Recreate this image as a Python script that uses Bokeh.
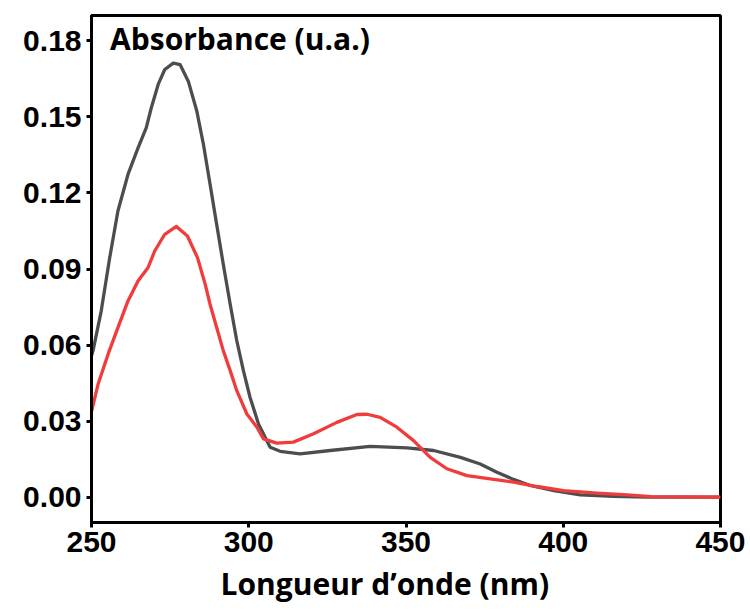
from bokeh.plotting import figure
from bokeh.models import Label, FixedTicker, Title
from bokeh.embed import file_html
from bokeh.resources import INLINE

# Wavelength (nm) and absorbance (u.a.)
wl_gray = [250, 250.5, 253.1, 255.8, 258.4, 261.6, 264.8, 267.4, 269.0, 271.2, 273.3,
           276.0, 278.2, 280.8, 283.5, 285.6, 287.7, 289.8, 291.9, 294.1, 296.2, 298.3,
           300.4, 303.1, 306.8, 310, 316.3, 325.9, 338.6, 350.3, 358.8, 367.3, 373.6,
           378.9, 384.2, 389.5, 397.0, 405.4, 416.0, 426.7, 450]
abs_gray = [0.0558, 0.0578, 0.0735, 0.0945, 0.1129, 0.1273, 0.1378, 0.1457, 0.1535, 0.1628, 0.1687,
            0.1712, 0.1706, 0.164, 0.1522, 0.1391, 0.1234, 0.1076, 0.0919, 0.0761, 0.0617, 0.0499,
            0.0394, 0.0289, 0.0197, 0.0181, 0.0171, 0.0184, 0.0200, 0.0194, 0.0184, 0.0157, 0.0131,
            0.0098, 0.0070, 0.0046, 0.0026, 0.0009, 0.0003, 0.0, 0.0]

wl_red = [250, 252.1, 255.3, 258.4, 261.6, 264.8, 268.0, 270.1, 273.3, 277.0, 280.5,
          283.7, 286.0, 287.7, 289.8, 291.9, 294.1, 296.2, 299.4, 302.6, 304.7, 308.9,
          314.2, 320.6, 328, 334.4, 337.6, 341.8, 347.1, 352.4, 357.7, 363.0, 369.4,
          376.8, 384.2, 391.7, 400.1, 410.8, 420.3, 428, 450]
abs_red = [0.0337, 0.0446, 0.0565, 0.0669, 0.0774, 0.0853, 0.0906, 0.0971, 0.1037, 0.1068, 0.1030,
           0.0945, 0.0847, 0.0761, 0.0669, 0.0578, 0.0499, 0.0420, 0.0328, 0.0276, 0.0230, 0.0213,
           0.0217, 0.0250, 0.0295, 0.0326, 0.0327, 0.0315, 0.0276, 0.0223, 0.0157, 0.0112, 0.0085,
           0.0072, 0.0059, 0.0042, 0.0026, 0.0016, 0.0009, 0.0002, 0.0]

x_ticks = [250, 300, 350, 400, 450]
y_ticks = [0.00, 0.03, 0.06, 0.09, 0.12, 0.15, 0.18]
y_tick_labels = ["0.00", "0.03", "0.06", "0.09", "0.12", "0.15", "0.18"]
x_title = "Longueur d\u2019onde (nm)"
y_title = "Absorbance (u.a.)"

p = figure(width=745, height=612, x_range=(250, 450), y_range=(-0.01, 0.19),
           output_backend="svg", toolbar_location=None,
           min_border_left=91, min_border_right=25, min_border_top=15, min_border_bottom=90)

p.line(wl_gray, abs_gray, line_color="#4d4d4d", line_width=3.3, line_join="round")
p.line(wl_red, abs_red, line_color="#f03c3c", line_width=3.3, line_join="round")

p.grid.visible = False
p.outline_line_color = "black"
p.outline_line_width = 3
p.outline_line_alpha = 1.0

tick_font = "Liberation Sans"
for ax in (p.xaxis[0], p.yaxis[0]):
    ax.axis_line_width = 3
    ax.axis_line_color = "black"
    ax.major_tick_line_width = 3
    ax.major_tick_line_color = "black"
    ax.major_tick_in = 0
    ax.major_tick_out = 5
    ax.minor_tick_line_color = None
    ax.major_label_text_font = tick_font
    ax.major_label_text_font_style = "bold"
    ax.major_label_text_font_size = "30px"
    ax.major_label_text_color = "black"

p.xaxis.ticker = FixedTicker(ticks=x_ticks)
p.yaxis.ticker = FixedTicker(ticks=y_ticks)
p.yaxis.major_label_overrides = {t: l for t, l in zip(y_ticks, y_tick_labels)}
p.xaxis.major_label_standoff = 4
p.yaxis.major_label_standoff = 5

xlab = Title(text=x_title, text_font="Open Sans", text_font_style="bold",
             text_font_size="30px", text_color="black", align="left", offset=129,
             standoff=13)
p.add_layout(xlab, "below")

title = Label(x=255.9, y=0.1892, text=y_title, text_font="Open Sans",
              text_font_style="bold", text_font_size="30px", text_color="black",
              text_baseline="top", text_align="left")
p.add_layout(title)

open("out.html", "w").write(file_html(p, INLINE))
